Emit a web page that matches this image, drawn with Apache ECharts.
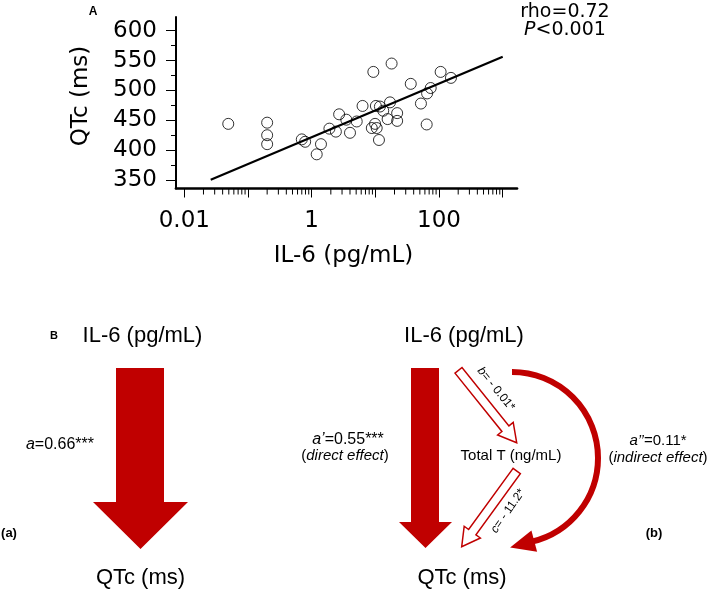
<!DOCTYPE html>
<html><head><meta charset="utf-8">
<script src="https://cdn.jsdelivr.net/npm/echarts@6/dist/echarts.min.js"></script>
<style>html,body{margin:0;padding:0;background:#fff}#c{width:709px;height:590px}</style>
</head><body><div id="c"></div>
<script>
// ---- Panel A data ----
const il6 = [0.049, 0.2, 0.2, 0.2, 0.70, 0.79, 1.4, 1.2, 2.7, 1.9, 2.4, 3.5, 4.0, 5.1, 6.3, 9.3, 18, 36, 106, 154, 74, 65, 52, 64, 17, 10.2, 11.8, 13.3, 15.6, 22, 22, 8.8, 9.9, 10.5, 11.4];
const qtc = [444, 446, 425, 410, 418, 414, 410, 393, 460, 436, 431, 451, 429, 448, 474, 531, 545, 511, 531, 521, 504, 495, 478, 443, 480, 474, 473, 466, 452, 462, 449, 437, 444, 437, 417];
const fitX = [0.026, 1000];
const fitY = [350.5, 556.4];
const yMin = 350, yMax = 600, yStep = 50;
const xMajorTicks = [0.01, 0.1, 1, 10, 100, 1000];
const xLabelValues = [0.01, 1, 100];
const xLabelTexts = ['0.01', '1', '100'];
const statText = ['rho=0.72', 'P<0.001'];

const RED = '#C00000';
const xMinorTicks = [];
for (let e = -2; e < 3; e++) for (let m = 2; m < 10; m++) xMinorTicks.push(+(m * Math.pow(10, e)).toPrecision(3));

const TOPFONT = 'DejaVu Sans';
const ARIAL = 'Liberation Sans, Arial, sans-serif';

// layout of panel A
const frame = { left: 176, top: 17, width: 341, height: 171.5 };
const dataGrid = { left: 184.3, top: 30.7, width: 318.4, height: 149.3 };
const axisDrop = (frame.top + frame.height) - (dataGrid.top + dataGrid.height);
const decadePx = dataGrid.width / 5;
const frameMin = Math.pow(10, -2 - (dataGrid.left - frame.left) / decadePx);
const frameMax = Math.pow(10, 3 + ((frame.left + frame.width) - (dataGrid.left + dataGrid.width)) / decadePx);

function arrowPoly(x1, y1, x2, y2, sh, hh, hl) {
  const dx = x2 - x1, dy = y2 - y1, L = Math.hypot(dx, dy);
  const ux = dx / L, uy = dy / L, px = -uy, py = ux;
  const bx = x2 - ux * hl, by = y2 - uy * hl;
  return [
    [x1 + px * sh, y1 + py * sh], [bx + px * sh, by + py * sh], [bx + px * hh, by + py * hh],
    [x2, y2],
    [bx - px * hh, by - py * hh], [bx - px * sh, by - py * sh], [x1 - px * sh, y1 - py * sh]
  ];
}

function txt(x, y, text, opts) {
  opts = opts || {};
  return {
    type: 'text', x: x, y: y, rotation: opts.rotation || 0, silent: true,
    style: {
      text: text, x: 0, y: 0, fill: '#000', align: 'center', verticalAlign: 'middle',
      fontSize: opts.size || 15, fontFamily: opts.family || ARIAL,
      fontWeight: opts.weight || 'normal', fontStyle: 'normal', rich: opts.rich
    }
  };
}
function richSet(size) {
  return {
    i: { fontStyle: 'italic', fontSize: size, fontFamily: ARIAL, fill: '#000' },
    n: { fontSize: size, fontFamily: ARIAL, fill: '#000' }
  };
}

// curved arrow geometry
const acx = 512, acy = 458, ar = 86;
const th = 75 * Math.PI / 180;
const baseX = acx + ar * Math.cos(th), baseY = acy + ar * Math.sin(th);
const tdx = -Math.sin(th), tdy = Math.cos(th);
const tipX = baseX + 25 * tdx, tipY = baseY + 25 * tdy;
const pX = Math.cos(th), pY = Math.sin(th);

const graphics = [
  txt(93, 12, 'A', { size: 12, weight: 'bold' }),
  { type: 'text', x: 565, y: 12, silent: true, style: { text: statText[0], x: 0, y: 0, align: 'center', verticalAlign: 'middle', fontSize: 19, fontFamily: TOPFONT, fill: '#000' } },
  { type: 'text', x: 565, y: 30, silent: true, style: { text: '{i|P}{n|' + statText[1].slice(1) + '}', x: 0, y: 0, align: 'center', verticalAlign: 'middle', rich: {
      i: { fontStyle: 'italic', fontSize: 19, fontFamily: TOPFONT, fill: '#000' },
      n: { fontSize: 19, fontFamily: TOPFONT, fill: '#000' } } } },
  { type: 'text', x: 81, y: 96, rotation: Math.PI / 2, silent: true, style: { text: 'QTc (ms)', x: 0, y: 0, align: 'center', verticalAlign: 'middle', fontSize: 23, fontFamily: TOPFONT, fill: '#000' } },

  // Panel B
  txt(54, 336, 'B', { size: 11, weight: 'bold' }),
  txt(142.5, 336, 'IL-6 (pg/mL)', { size: 22 }),
  txt(140.5, 578, 'QTc (ms)', { size: 22 }),
  txt(60, 445, '{i|a}{n|=0.66***}', { rich: richSet(16) }),
  txt(9, 533, '(a)', { size: 13, weight: 'bold' }),
  { type: 'polygon', silent: true, shape: { points: [[116, 368], [164, 368], [164, 502], [188, 502], [140.5, 549], [93, 502], [116, 502]] }, style: { fill: RED } },

  txt(464, 336, 'IL-6 (pg/mL)', { size: 22 }),
  txt(462, 578, 'QTc (ms)', { size: 22 }),
  txt(348, 440, '{i|a’}{n|=0.55***}', { rich: richSet(16) }),
  txt(345, 456, '{n|(}{i|direct effect}{n|)}', { rich: richSet(15) }),
  { type: 'polygon', silent: true, shape: { points: [[411, 368], [439, 368], [439, 522], [452, 522], [425.5, 548], [399, 522], [411, 522]] }, style: { fill: RED } },
  { type: 'polygon', silent: true, shape: { points: arrowPoly(458.5, 370.3, 516.7, 442.7, 4.5, 10, 18) }, style: { fill: '#fff', stroke: RED, lineWidth: 1.5 } },
  { type: 'polygon', silent: true, shape: { points: arrowPoly(516.7, 471, 461.7, 546.7, 4.5, 10, 18) }, style: { fill: '#fff', stroke: RED, lineWidth: 1.5 } },
  txt(496, 389, '{i|b}{n|= - 0.01*}', { rich: richSet(12), rotation: -51 * Math.PI / 180 }),
  txt(508, 511, '{i|c}{n|= - 11.2*}', { rich: richSet(12), rotation: 55 * Math.PI / 180 }),
  txt(511, 456, 'Total T (ng/mL)', { size: 15 }),
  { type: 'arc', silent: true, shape: { cx: acx, cy: acy, r: ar, startAngle: -Math.PI / 2, endAngle: th + 0.03, clockwise: true }, style: { stroke: RED, lineWidth: 6, fill: null } },
  { type: 'polygon', silent: true, shape: { points: [[tipX, tipY], [baseX + 11 * pX, baseY + 11 * pY], [baseX - 11 * pX, baseY - 11 * pY]] }, style: { fill: RED } },
  txt(658, 441, '{i|a’’}{n|=0.11*}', { rich: richSet(15) }),
  txt(658, 458, '{n|(}{i|indirect effect}{n|)}', { rich: richSet(15) }),
  txt(654, 533, '(b)', { size: 13, weight: 'bold' })
];

const chart = echarts.init(document.getElementById('c'), null, { renderer: 'canvas' });
chart.setOption({
  animation: false,
  backgroundColor: '#fff',
  grid: [frame, dataGrid],
  xAxis: [
    { gridIndex: 0, type: 'log', logBase: 10, position: 'bottom', min: frameMin, max: frameMax,
      axisLine: { onZero: false, lineStyle: { color: '#000', width: 2.7 } },
      axisTick: { show: true, customValues: xMajorTicks, length: 9, lineStyle: { color: '#000', width: 1 } },
      axisLabel: { show: false }, splitLine: { show: false } },
    { gridIndex: 1, type: 'log', logBase: 10, position: 'bottom', min: 0.01, max: 1000, offset: axisDrop,
      name: 'IL-6 (pg/mL)', nameLocation: 'middle', nameGap: 56,
      nameTextStyle: { fontSize: 23, fontFamily: TOPFONT, color: '#000' },
      axisLine: { show: false, onZero: false },
      axisTick: { show: false },
      axisLabel: { customValues: xLabelValues, margin: 21, fontSize: 23, fontFamily: TOPFONT, color: '#000',
        formatter: function (v) { const i = xLabelValues.findIndex(t => Math.abs(Math.log10(t) - Math.log10(v)) < 1e-6); return i >= 0 ? xLabelTexts[i] : ''; } },
      splitLine: { show: false } }
  ],
  yAxis: [
    { gridIndex: 0, type: 'value', position: 'left', min: 0, max: 1, axisLine: { show: true, onZero: false, lineStyle: { color: '#000', width: 2 } }, axisTick: { show: false }, axisLabel: { show: false }, splitLine: { show: false } },
    { gridIndex: 1, type: 'value', position: 'left', min: yMin, max: yMax, interval: yStep, offset: 8.3,
      axisLine: { show: false, onZero: false },
      axisTick: { show: true, length: 10, lineStyle: { color: '#000', width: 1 } },
      minorTick: { show: true, splitNumber: 2, length: 5, lineStyle: { color: '#000', width: 1 } },
      axisLabel: { margin: 19, fontSize: 23, fontFamily: TOPFONT, color: '#000' },
      splitLine: { show: false }, minorSplitLine: { show: false } }
  ],
  series: [
    { type: 'scatter', xAxisIndex: 1, yAxisIndex: 1, symbol: 'circle', symbolSize: 11,
      itemStyle: { color: 'rgba(255,255,255,0)', borderColor: '#000', borderWidth: 1 },
      data: il6.map((v, i) => [v, qtc[i]]), z: 2 },
    { type: 'line', xAxisIndex: 1, yAxisIndex: 1, showSymbol: false, symbol: 'none',
      lineStyle: { color: '#000', width: 2.2 },
      data: fitX.map((v, i) => [v, fitY[i]]), z: 3 },
    // minor log ticks (2..9 x 10^k), placed through the axis scale
    { type: 'custom', xAxisIndex: 1, yAxisIndex: 1, silent: true, clip: false, z: 4,
      data: xMinorTicks.map(v => [v, yMin]),
      encode: { x: 0, y: 1 },
      renderItem: function (params, api) {
        const p = api.coord([api.value(0), api.value(1)]);
        return { type: 'line', shape: { x1: p[0], y1: p[1] + axisDrop, x2: p[0], y2: p[1] + axisDrop + 6 },
          style: { stroke: '#000', lineWidth: 1 } };
      } }
  ],
  graphic: graphics
});
</script>
</body></html>
